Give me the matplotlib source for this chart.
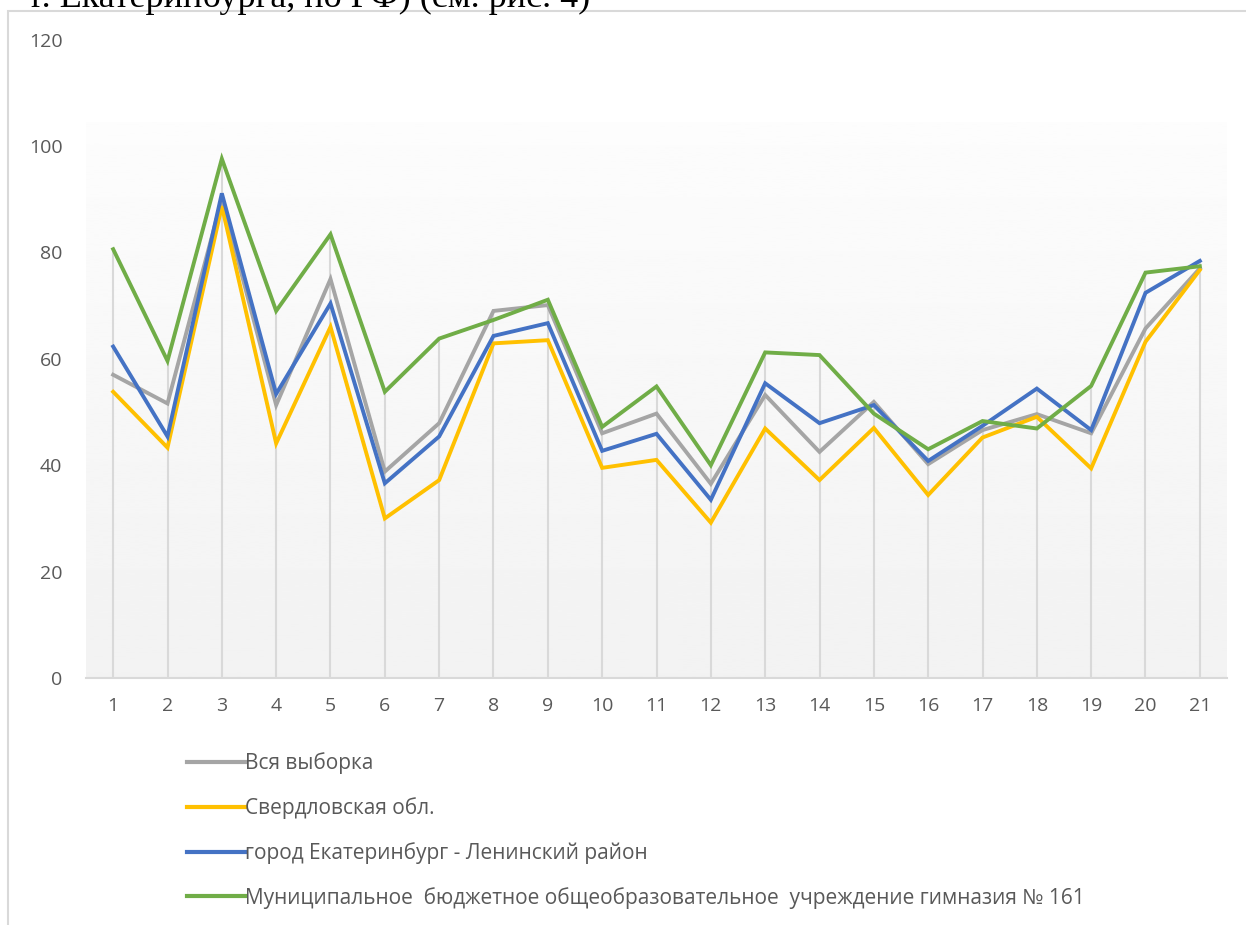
import numpy as np
import matplotlib
matplotlib.use("Agg")
import matplotlib.pyplot as plt
from matplotlib.patches import Rectangle

# --- data ---
tasks = list(range(1, 22))
all_sample = [57.0, 51.6, 90.0, 51.3, 75.0, 38.8, 47.9, 69.0, 70.1, 46.0, 49.7,
              36.5, 53.2, 42.5, 51.9, 40.2, 46.6, 49.6, 46.0, 65.7, 77.0]
sverdl = [53.8, 43.3, 88.7, 44.1, 66.0, 30.0, 37.2, 62.9, 63.5, 39.5, 41.0,
          29.2, 46.9, 37.2, 47.0, 34.4, 45.2, 49.1, 39.4, 63.2, 76.7]
ekb_len = [62.3, 45.4, 91.1, 53.4, 70.4, 36.6, 45.4, 64.3, 66.7, 42.7, 45.9,
           33.5, 55.4, 47.9, 51.3, 40.8, 47.4, 54.4, 46.6, 72.4, 78.4]
school = [80.6, 59.6, 97.6, 69.0, 83.4, 53.8, 63.8, 67.3, 71.1, 47.2, 54.8,
          40.0, 61.2, 60.7, 49.7, 43.0, 48.3, 46.9, 54.9, 76.2, 77.4]

series = [
    ("Вся выборка", all_sample, "#a5a5a5"),
    ("Свердловская обл.", sverdl, "#ffc000"),
    ("город Екатеринбург - Ленинский район", ekb_len, "#4472c4"),
    ("Муниципальное  бюджетное общеобразовательное  учреждение гимназия № 161", school, "#70ad47"),
]

W, H = 1246, 925
plt.rcParams["font.family"] = ["Open Sans", "DejaVu Sans"]
fig = plt.figure(figsize=(W / 100, H / 100), dpi=100, facecolor="white")

# cropped document text above the chart + chart frame
fig.text(590 / W, 1 - 7 / H, "г. Екатеринбурга, по РФ) (см. рис. 4)", ha="right", va="baseline",
         fontsize=26, family="Liberation Serif", color="black")
fig.patches.append(Rectangle((8 / W, -0.1), 1.2, 1 - 11 / H + 0.1, transform=fig.transFigure,
                             fill=False, edgecolor="#d9d9d9", lw=1.5))

ax = fig.add_axes([86 / W, 1 - 678 / H, (1227 - 86) / W, (678 - 39.6) / H])
ax.set_xlim(0.5, 21.5)
ax.set_ylim(0, 120)

# gradient plot area
grad = np.linspace(0.949, 0.99, 256).reshape(-1, 1)
ax.imshow(grad, cmap="gray", vmin=0, vmax=1, origin="lower", aspect="auto",
          extent=[0.5, 21.5, 0, 104.5], zorder=0)

# drop lines from the highest series point to the axis
top = np.max([all_sample, sverdl, ekb_len, school], axis=0)
ax.vlines(tasks, 0, top, color="#d9d9d9", lw=1.5, zorder=1)

handles = []
for label, vals, col in series:
    h, = ax.plot(tasks, vals, color=col, lw=2.8, label=label, zorder=3,
                 solid_joinstyle="miter")
    handles.append(h)

for s in ["left", "right", "top"]:
    ax.spines[s].set_visible(False)
ax.spines["bottom"].set_color("#d9d9d9")
ax.spines["bottom"].set_linewidth(1.5)
ax.set_yticks(range(0, 121, 20))
ax.set_xticks(tasks)
ax.tick_params(axis="y", length=0, pad=17, labelsize=14, labelcolor="#595959")
ax.tick_params(axis="x", length=0, pad=14, labelsize=14, labelcolor="#595959")

leg = fig.legend(handles=handles, loc="upper left", bbox_to_anchor=(179 / W, 1 - 744 / H),
                 frameon=False, ncol=1, fontsize=15, handlelength=2.75, handletextpad=0.0,
                 labelspacing=1.1, borderaxespad=0)
for t in leg.get_texts():
    t.set_color("#595959")
for l in leg.get_lines():
    l.set_linewidth(3)

fig.savefig("out.png", dpi=100, facecolor="white")
